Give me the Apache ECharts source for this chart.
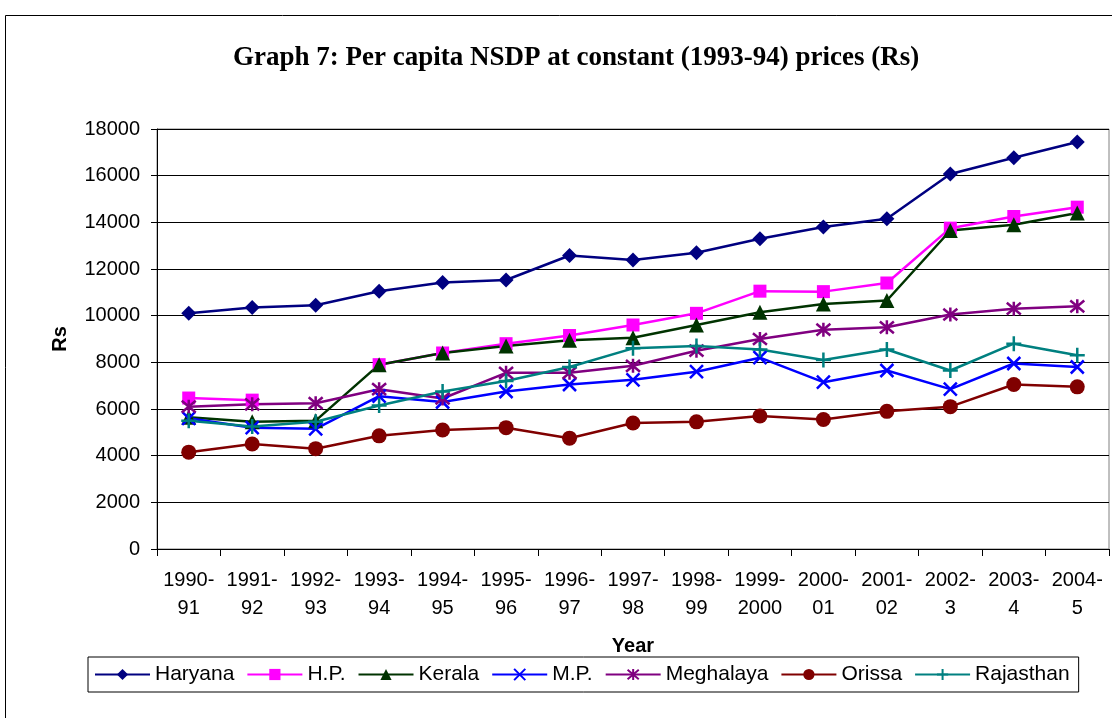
<!DOCTYPE html>
<html>
<head>
<meta charset="utf-8">
<script src="https://cdn.jsdelivr.net/npm/echarts@6/dist/echarts.min.js"></script>
<style>
  html, body { margin: 0; padding: 0; background: #fff; }
  #chart { width: 1112px; height: 718px; }
</style>
</head>
<body>
<div id="chart"></div>
<script>
// 年份（横轴）
const years = ['1990-91', '1991-92', '1992-93', '1993-94', '1994-95', '1995-96', '1996-97',
  '1997-98', '1998-99', '1999-2000', '2000-01', '2001-02', '2002-3', '2003-4', '2004-5']

// 各邦人均 NSDP
const haryana = [10100, 10350, 10450, 11050, 11420, 11530, 12580, 12390, 12700, 13300, 13800, 14150, 16070, 16770, 17440]
const hp = [6470, 6380, null, 7900, 8400, 8800, 9150, 9600, 10100, 11050, 11030, 11400, 13750, 14250, 14650]
const kerala = [5650, 5450, 5500, 7900, 8400, 8700, 8950, 9050, 9600, 10150, 10500, 10650, 13650, 13900, 14400]
const mp = [5600, 5200, 5150, 6550, 6300, 6750, 7050, 7250, 7600, 8200, 7150, 7650, 6850, 7950, 7800]
const meghalaya = [6100, 6200, 6250, 6850, 6450, 7550, 7550, 7850, 8500, 9000, 9400, 9500, 10050, 10300, 10400]
const orissa = [4150, 4500, 4300, 4850, 5100, 5200, 4750, 5400, 5450, 5700, 5550, 5900, 6100, 7050, 6950]
const rajasthan = [5500, 5250, 5450, 6150, 6750, 7200, 7800, 8600, 8700, 8550, 8100, 8550, 7650, 8800, 8300]

const yTicks = { min: 0, max: 18000, step: 2000 }

const fontSans = 'Arial, "Liberation Sans", sans-serif'

// 线型符号
const crossX = 'path://M0,0 L10,10 M10,0 L0,10'
const star = 'path://M0,0 L10,10 M10,0 L0,10 M5,-1 L5,11'
const plus = 'path://M5,0 L5,10 M0,5 L10,5'

function makeLine (name, data, color, symbol, size, stroke) {
  const s = {
    name: name,
    type: 'line',
    data: data,
    symbol: symbol,
    symbolSize: size,
    showSymbol: true,
    connectNulls: false,
    lineStyle: { color: color, width: 2.5 },
    itemStyle: { color: color }
  }
  if (stroke) {
    s.itemStyle = { color: 'rgba(0,0,0,0)', borderColor: color, borderWidth: 2.5 }
  }
  return s
}

const chart = echarts.init(document.getElementById('chart'))
chart.setOption({
  animation: false,
  backgroundColor: '#fff',
  title: {
    text: 'Graph 7: Per capita NSDP at constant (1993-94) prices (Rs)',
    left: 228,
    top: 40,
    textStyle: { fontFamily: '"Liberation Serif", "Times New Roman", serif', fontWeight: 'bold', fontSize: 27, color: '#000' }
  },
  graphic: [{
    type: 'rect',
    shape: { x: 5.5, y: 15.5, width: 1120, height: 720 },
    style: { fill: 'none', stroke: '#000', lineWidth: 1 },
    silent: true
  }],
  legend: {
    left: 88,
    top: 657,
    padding: [7, 9, 7, 6],
    borderColor: '#000',
    borderWidth: 1,
    itemWidth: 55,
    itemHeight: 14,
    itemGap: 12,
    textStyle: { fontFamily: fontSans, fontSize: 21, color: '#000' },
    data: ['Haryana', 'H.P.', 'Kerala', 'M.P.', 'Meghalaya', 'Orissa', 'Rajasthan']
  },
  grid: {
    left: 157,
    top: 129,
    right: 3,
    bottom: 169,
    show: true,
    borderColor: '#808080',
    borderWidth: 1
  },
  xAxis: {
    type: 'category',
    data: years,
    boundaryGap: true,
    name: 'Year',
    nameLocation: 'middle',
    nameGap: 87,
    nameTextStyle: { fontFamily: fontSans, fontWeight: 'bold', fontSize: 20, color: '#000' },
    axisLine: { lineStyle: { color: '#000', width: 1 } },
    axisTick: { show: true, length: 7, lineStyle: { color: '#000' } },
    axisLabel: {
      interval: 0,
      margin: 17,
      lineHeight: 28,
      fontFamily: fontSans,
      fontSize: 20,
      color: '#000',
      formatter: v => v.replace('-', '-\n')
    }
  },
  yAxis: {
    type: 'value',
    min: yTicks.min,
    max: yTicks.max,
    interval: yTicks.step,
    name: 'Rs',
    nameLocation: 'middle',
    nameGap: 87,
    nameTextStyle: { fontFamily: fontSans, fontWeight: 'bold', fontSize: 20, color: '#000' },
    axisLine: { show: true, lineStyle: { color: '#000', width: 1 } },
    axisTick: { show: true, length: 6, lineStyle: { color: '#000' } },
    axisLabel: { margin: 17, fontFamily: fontSans, fontSize: 20, color: '#000', formatter: v => String(v) },
    splitLine: { show: true, lineStyle: { color: '#000', width: 1 } }
  },
  series: [
    makeLine('Haryana', haryana, '#000080', 'diamond', 15),
    makeLine('H.P.', hp, '#ff00ff', 'rect', 13),
    makeLine('Kerala', kerala, '#003300', 'triangle', 15),
    makeLine('M.P.', mp, '#0000ff', crossX, 13, true),
    makeLine('Meghalaya', meghalaya, '#800080', star, 14, true),
    makeLine('Orissa', orissa, '#800000', 'circle', 15),
    makeLine('Rajasthan', rajasthan, '#008080', plus, 15, true)
  ]
})
</script>
</body>
</html>
